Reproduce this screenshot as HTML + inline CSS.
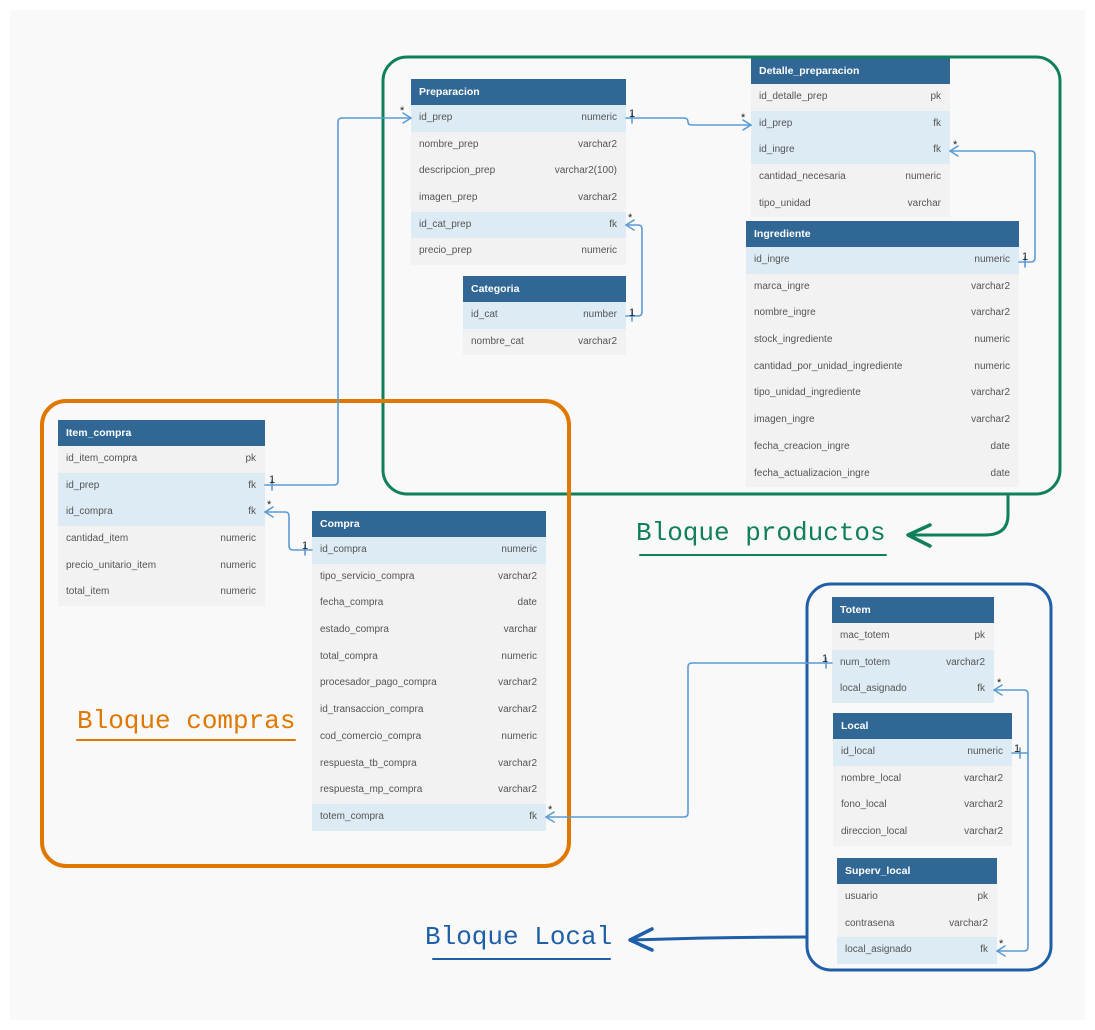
<!DOCTYPE html>
<html><head><meta charset="utf-8">
<style>
html,body{margin:0;padding:0;}
body{width:1095px;height:1030px;background:#fff;position:relative;overflow:hidden;font-family:"Liberation Sans",Arial,sans-serif;}
#bg{position:absolute;left:10px;top:10px;width:1075px;height:1010px;background:#f9f9f9;}
.t{position:absolute;font-size:10px;color:#555;}
.t .h{background:#306794;color:#fff;font-weight:bold;font-size:10.5px;height:26px;line-height:26px;padding-left:8px;}
.t .r{height:26.7px;line-height:26.7px;background:#f2f2f2;padding:0 9px 0 8px;display:flex;justify-content:space-between;}
.t .r.hl{background:#ddebf4;}
svg{position:absolute;left:0;top:0;}
.lbl{position:absolute;font-family:"Liberation Mono","DejaVu Sans Mono",monospace;font-size:26px;white-space:nowrap;}
</style></head><body>
<div id="bg"></div>

<div class="t" style="left:411px;top:79px;width:215px">
<div class="h">Preparacion</div>
<div class="r hl"><span>id_prep</span><span>numeric</span></div>
<div class="r"><span>nombre_prep</span><span>varchar2</span></div>
<div class="r"><span>descripcion_prep</span><span>varchar2(100)</span></div>
<div class="r"><span>imagen_prep</span><span>varchar2</span></div>
<div class="r hl"><span>id_cat_prep</span><span>fk</span></div>
<div class="r"><span>precio_prep</span><span>numeric</span></div>
</div>

<div class="t" style="left:751px;top:58px;width:199px">
<div class="h">Detalle_preparacion</div>
<div class="r"><span>id_detalle_prep</span><span>pk</span></div>
<div class="r hl"><span>id_prep</span><span>fk</span></div>
<div class="r hl"><span>id_ingre</span><span>fk</span></div>
<div class="r"><span>cantidad_necesaria</span><span>numeric</span></div>
<div class="r"><span>tipo_unidad</span><span>varchar</span></div>
</div>

<div class="t" style="left:463px;top:276px;width:163px">
<div class="h">Categoria</div>
<div class="r hl"><span>id_cat</span><span>number</span></div>
<div class="r"><span>nombre_cat</span><span>varchar2</span></div>
</div>

<div class="t" style="left:746px;top:221px;width:273px">
<div class="h">Ingrediente</div>
<div class="r hl"><span>id_ingre</span><span>numeric</span></div>
<div class="r"><span>marca_ingre</span><span>varchar2</span></div>
<div class="r"><span>nombre_ingre</span><span>varchar2</span></div>
<div class="r"><span>stock_ingrediente</span><span>numeric</span></div>
<div class="r"><span>cantidad_por_unidad_ingrediente</span><span>numeric</span></div>
<div class="r"><span>tipo_unidad_ingrediente</span><span>varchar2</span></div>
<div class="r"><span>imagen_ingre</span><span>varchar2</span></div>
<div class="r"><span>fecha_creacion_ingre</span><span>date</span></div>
<div class="r"><span>fecha_actualizacion_ingre</span><span>date</span></div>
</div>

<div class="t" style="left:58px;top:420px;width:207px">
<div class="h">Item_compra</div>
<div class="r"><span>id_item_compra</span><span>pk</span></div>
<div class="r hl"><span>id_prep</span><span>fk</span></div>
<div class="r hl"><span>id_compra</span><span>fk</span></div>
<div class="r"><span>cantidad_item</span><span>numeric</span></div>
<div class="r"><span>precio_unitario_item</span><span>numeric</span></div>
<div class="r"><span>total_item</span><span>numeric</span></div>
</div>

<div class="t" style="left:312px;top:511px;width:234px">
<div class="h">Compra</div>
<div class="r hl"><span>id_compra</span><span>numeric</span></div>
<div class="r"><span>tipo_servicio_compra</span><span>varchar2</span></div>
<div class="r"><span>fecha_compra</span><span>date</span></div>
<div class="r"><span>estado_compra</span><span>varchar</span></div>
<div class="r"><span>total_compra</span><span>numeric</span></div>
<div class="r"><span>procesador_pago_compra</span><span>varchar2</span></div>
<div class="r"><span>id_transaccion_compra</span><span>varchar2</span></div>
<div class="r"><span>cod_comercio_compra</span><span>numeric</span></div>
<div class="r"><span>respuesta_tb_compra</span><span>varchar2</span></div>
<div class="r"><span>respuesta_mp_compra</span><span>varchar2</span></div>
<div class="r hl"><span>totem_compra</span><span>fk</span></div>
</div>

<div class="t" style="left:832px;top:597px;width:162px">
<div class="h">Totem</div>
<div class="r"><span>mac_totem</span><span>pk</span></div>
<div class="r hl"><span>num_totem</span><span>varchar2</span></div>
<div class="r hl"><span>local_asignado</span><span>fk</span></div>
</div>

<div class="t" style="left:833px;top:713px;width:179px">
<div class="h">Local</div>
<div class="r hl"><span>id_local</span><span>numeric</span></div>
<div class="r"><span>nombre_local</span><span>varchar2</span></div>
<div class="r"><span>fono_local</span><span>varchar2</span></div>
<div class="r"><span>direccion_local</span><span>varchar2</span></div>
</div>

<div class="t" style="left:837px;top:858px;width:160px">
<div class="h">Superv_local</div>
<div class="r"><span>usuario</span><span>pk</span></div>
<div class="r"><span>contrasena</span><span>varchar2</span></div>
<div class="r hl"><span>local_asignado</span><span>fk</span></div>
</div>

<svg width="1095" height="1030" viewBox="0 0 1095 1030">
<g fill="none" stroke-linecap="round" stroke-linejoin="round">
<rect x="383" y="57" width="677" height="437" rx="24" stroke="#10805a" stroke-width="3"/>
<rect x="42" y="401" width="527" height="465" rx="24" stroke="#e07800" stroke-width="4"/>
<rect x="807" y="584" width="244" height="386" rx="24" stroke="#1e5fa8" stroke-width="3"/>
<path d="M1008 494 L1008 515 Q1008 535 985 535 L910 535" stroke="#10805a" stroke-width="3"/>
<path d="M930 525 L908 535 L930 546" stroke="#10805a" stroke-width="3.5"/>
<path d="M807 937 Q720 937 630 940" stroke="#1e5fa8" stroke-width="3"/>
<path d="M652 929 L630 940 L652 950" stroke="#1e5fa8" stroke-width="3.5"/>
<line x1="640" y1="555" x2="886" y2="555" stroke="#10805a" stroke-width="2"/>
<line x1="77" y1="740" x2="295" y2="740" stroke="#e07800" stroke-width="2"/>
<line x1="433" y1="959" x2="610" y2="959" stroke="#1e5fa8" stroke-width="2"/>
<g stroke="#5b9bd5" stroke-width="1.6">
<path d="M265 485 L334 485 Q338 485 338 481 L338 122 Q338 118 342 118 L411 118"/>
<path d="M403 113 L411 118 L403 123"/>
<path d="M626 118 L684 118 Q688 118 688 122 Q688 125 692 125 L751 125"/>
<path d="M743 120 L751 125 L743 130"/>
<path d="M626 225 L638 225 Q642 225 642 229 L642 312 Q642 316 638 316 L626 316"/>
<path d="M634 220 L626 225 L634 230"/>
<path d="M950 151 L1031 151 Q1035 151 1035 155 L1035 258 Q1035 262 1031 262 L1019 262"/>
<path d="M958 146 L950 151 L958 156"/>
<path d="M265 512 L285 512 Q289 512 289 516 L289 546 Q289 550 293 550 L312 550"/>
<path d="M273 507 L265 512 L273 517"/>
<path d="M546 817 L684 817 Q688 817 688 813 L688 667 Q688 663 692 663 L832 663"/>
<path d="M554 812 L546 817 L554 822"/>
<path d="M994 690 L1024 690 Q1028 690 1028 694 L1028 947 Q1028 951 1024 951 L997 951"/>
<path d="M1002 685 L994 690 L1002 695"/>
<path d="M1005 946 L997 951 L1005 956"/>
<path d="M1012 753 L1028 753"/>
<path d="M272 480 L272 490 M305 545 L305 555 M632 113 L632 123 M632 311 L632 321 M1025 257 L1025 267 M826 658 L826 668 M1020 748 L1020 758"/>
</g>
</g>
<g font-family="Liberation Sans,Arial,sans-serif" font-size="11" fill="#222">
<text x="400" y="114">*</text><text x="269" y="483">1</text>
<text x="629" y="117">1</text><text x="741" y="121">*</text>
<text x="628" y="221">*</text><text x="629" y="316">1</text>
<text x="953" y="148">*</text><text x="1022" y="260">1</text>
<text x="267" y="508">*</text><text x="302" y="549">1</text>
<text x="548" y="813">*</text><text x="822" y="662">1</text>
<text x="997" y="686">*</text><text x="1014" y="752">1</text>
<text x="999" y="947">*</text>
</g>
</svg>

<div class="lbl" style="left:636px;top:518px;color:#10805a">Bloque productos</div>
<div class="lbl" style="left:77px;top:706px;color:#e07800">Bloque compras</div>
<div class="lbl" style="left:425px;top:922px;color:#1e5fa8">Bloque Local</div>
</body></html>
